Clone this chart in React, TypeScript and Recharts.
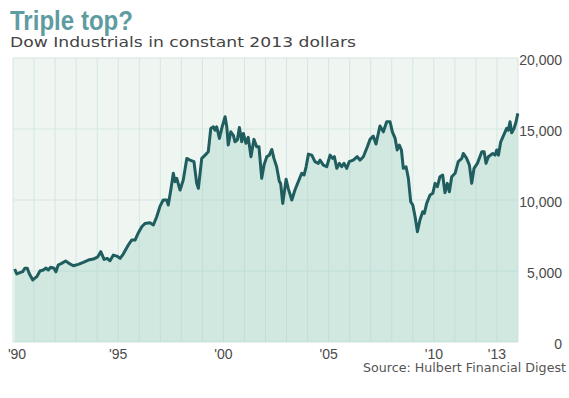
import { AreaChart, Area, XAxis, YAxis, CartesianGrid } from 'recharts';

// decimal year of each reading
const dates = [
  1990.08, 1990.18, 1990.33, 1990.46, 1990.56, 1990.68, 1990.77, 1990.94,
  1991.13, 1991.28, 1991.44, 1991.57, 1991.68, 1991.79, 1991.95,
  1992.04, 1992.15, 1992.31, 1992.5, 1992.66, 1992.87,
  1993.1, 1993.34, 1993.58, 1993.82,
  1994.03, 1994.17, 1994.33, 1994.48, 1994.61, 1994.77, 1994.93,
  1995.09, 1995.24, 1995.48, 1995.64, 1995.8, 1995.96,
  1996.12, 1996.27, 1996.51, 1996.67, 1996.83, 1996.99,
  1997.14, 1997.31, 1997.38, 1997.5, 1997.62, 1997.7, 1997.78, 1997.94,
  1998.09, 1998.26, 1998.41, 1998.6, 1998.73, 1998.81, 1998.97,
  1999.13, 1999.28, 1999.4, 1999.52, 1999.6, 1999.68, 1999.81, 1999.92,
  2000.08, 2000.16, 2000.23, 2000.35, 2000.47, 2000.55, 2000.66, 2000.76, 2000.87, 2000.95,
  2001.07, 2001.18, 2001.31, 2001.45, 2001.58, 2001.69, 2001.82, 2001.93,
  2002.06, 2002.18, 2002.3, 2002.4, 2002.53, 2002.66, 2002.72, 2002.82, 2002.98,
  2003.08, 2003.25, 2003.4, 2003.56, 2003.72, 2003.83, 2003.93,
  2004.04, 2004.2, 2004.35, 2004.51, 2004.59, 2004.75, 2004.91,
  2005.07, 2005.19, 2005.27, 2005.39, 2005.51, 2005.62, 2005.73, 2005.86, 2005.98,
  2006.17, 2006.36, 2006.49, 2006.65, 2006.84, 2006.97,
  2007.12, 2007.25, 2007.44, 2007.6, 2007.76, 2007.92,
  2008.03, 2008.16, 2008.26, 2008.36, 2008.46, 2008.55, 2008.68, 2008.79, 2008.9,
  2009.0, 2009.11, 2009.22, 2009.34, 2009.47, 2009.55, 2009.66, 2009.82, 2009.95,
  2010.06, 2010.17, 2010.29, 2010.42, 2010.53, 2010.64, 2010.74, 2010.85,
  2011.01, 2011.16, 2011.33, 2011.4, 2011.56, 2011.69, 2011.8, 2011.91,
  2012.07, 2012.28, 2012.39, 2012.48, 2012.59, 2012.8, 2012.91, 2012.99,
  2013.07, 2013.18, 2013.3, 2013.46, 2013.54, 2013.62, 2013.7, 2013.81, 2013.91, 2013.99,
];

// Dow Industrials, constant 2013 dollars
const dowReal = [
  5140, 4790, 4880, 4950, 5190, 5190, 4830, 4370,
  4600, 5000, 5070, 5210, 5070, 5260, 5190,
  4950, 5420, 5540, 5700, 5540, 5370,
  5470, 5610, 5770, 5840,
  6000, 6360, 5820, 5890, 5720, 6120, 6050,
  5890, 6190, 6830, 7180, 7180, 7700,
  8120, 8350, 8400, 8240, 8820, 9570,
  10000, 10000, 9650, 10700, 11880, 11290, 11530, 10700,
  11400, 12930, 12810, 12700, 11170, 10820, 12930,
  13160, 13400, 15040, 15160, 14920, 15160, 14340, 15040,
  15860, 15160, 13870, 14800, 14570, 14100, 14220, 15110, 14100, 14690,
  13990, 14410, 13050, 14270, 13750, 13750, 11530, 12460,
  13050, 13160, 13560, 12930, 12340, 11290, 11170, 9760, 11460,
  10820, 10000, 10700, 11290, 11880, 11760, 12340,
  13230, 13160, 12700, 12580, 12810, 12460, 12340,
  13160, 12930, 13050, 12230, 12580, 12340, 12580, 12230, 12700,
  12810, 13050, 12810, 13050, 13750, 14270,
  14500, 13940, 15210, 14800, 15510, 15510,
  14800, 14340, 13520, 13870, 13520, 12230, 12340, 11530, 9880,
  9650, 8820, 7760, 8590, 9170, 9060, 9760, 10350, 10470,
  11170, 10940, 11640, 11760, 10510, 11170, 10580, 11640,
  11880, 12700, 12930, 13280, 12930, 12460, 11170, 12230,
  12580, 13400, 13400, 12580, 13050, 13280, 13160, 13520,
  13160, 14100, 14500, 15040, 14920, 15510, 14740, 15040, 15510, 16100,
];

const gridYears = [
  1990, 1991, 1992, 1993, 1994, 1995, 1996, 1997, 1998, 1999, 2000, 2001, 2002,
  2003, 2004, 2005, 2006, 2007, 2008, 2009, 2010, 2011, 2012, 2013, 2014,
];
const labelYears = [1990, 1995, 2000, 2005, 2010, 2013];
const yTicks = [0, 5000, 10000, 15000, 20000];

const data = dates.map((d, i) => ({ date: d, value: dowReal[i] }));

const TICK_FONT = "'Liberation Sans', Arial, sans-serif";

function YearTick({ x, y, payload }: { x: number; y: number; payload: { value: number } }) {
  if (!labelYears.includes(payload.value)) return null;
  // first label is nudged inside the plot edge
  const lx = payload.value === labelYears[0] ? x + 4 : x;
  return (
    <text x={lx} y={y + 17} textAnchor="middle" fontSize={14} fill="#4a4a4a" fontFamily={TICK_FONT}>
      {"'" + String(payload.value).slice(2)}
    </text>
  );
}

function ValueTick({ x, y, payload }: { x: number; y: number; payload: { value: number } }) {
  return (
    <text x={x + 44} y={y + 7} textAnchor="end" fontSize={14} fill="#4a4a4a" fontFamily={TICK_FONT}>
      {payload.value.toLocaleString('en-US')}
    </text>
  );
}

export default function App() {
  return (
    <div style={{ position: 'absolute', left: 0, top: 0, width: 569, height: 398, background: '#fff' }}>
      <AreaChart
        width={569}
        height={398}
        data={data}
        margin={{ top: 58, right: 6, bottom: 0, left: 13 }}
      >
        <CartesianGrid
          stroke="#d3e6e1"
          strokeWidth={1}
          fill="#eff6f2"
          verticalValues={gridYears}
        />
        <XAxis
          dataKey="date"
          type="number"
          domain={[1990, 2014]}
          ticks={gridYears}
          interval={0}
          axisLine={false}
          tickLine={false}
          tickSize={0}
          tickMargin={0}
          height={56}
          tick={YearTick}
        />
        <YAxis
          orientation="right"
          domain={[0, 20000]}
          ticks={yTicks}
          axisLine={false}
          tickLine={false}
          tickSize={0}
          tickMargin={0}
          width={45}
          tick={ValueTick}
        />
        <Area
          type="linear"
          dataKey="value"
          stroke="#1f5d5f"
          strokeWidth={3}
          strokeLinejoin="round"
          fill="#a6d3ca"
          fillOpacity={0.42}
          isAnimationActive={false}
          dot={false}
          activeDot={false}
        />
      </AreaChart>
      <svg
        width={569}
        height={398}
        style={{ position: 'absolute', left: 0, top: 0, pointerEvents: 'none' }}
      >
        <text
          x={10}
          y={30}
          fontSize={28}
          fontWeight="bold"
          fill="#5f9ca1"
          fontFamily="'Liberation Sans Narrow', 'Liberation Sans', Arial, sans-serif"
          textLength={123}
          lengthAdjust="spacingAndGlyphs"
        >
          Triple top?
        </text>
        <text
          x={10}
          y={47}
          fontSize={14.6}
          fill="#444"
          fontFamily="'DejaVu Sans', Verdana, sans-serif"
          textLength={346}
          lengthAdjust="spacingAndGlyphs"
        >
          Dow Industrials in constant 2013 dollars
        </text>
        <text
          x={566}
          y={372}
          fontSize={11.4}
          fill="#555"
          textAnchor="end"
          fontFamily="'DejaVu Sans', Verdana, sans-serif"
          textLength={203}
          lengthAdjust="spacingAndGlyphs"
        >
          Source: Hulbert Financial Digest
        </text>
      </svg>
    </div>
  );
}
